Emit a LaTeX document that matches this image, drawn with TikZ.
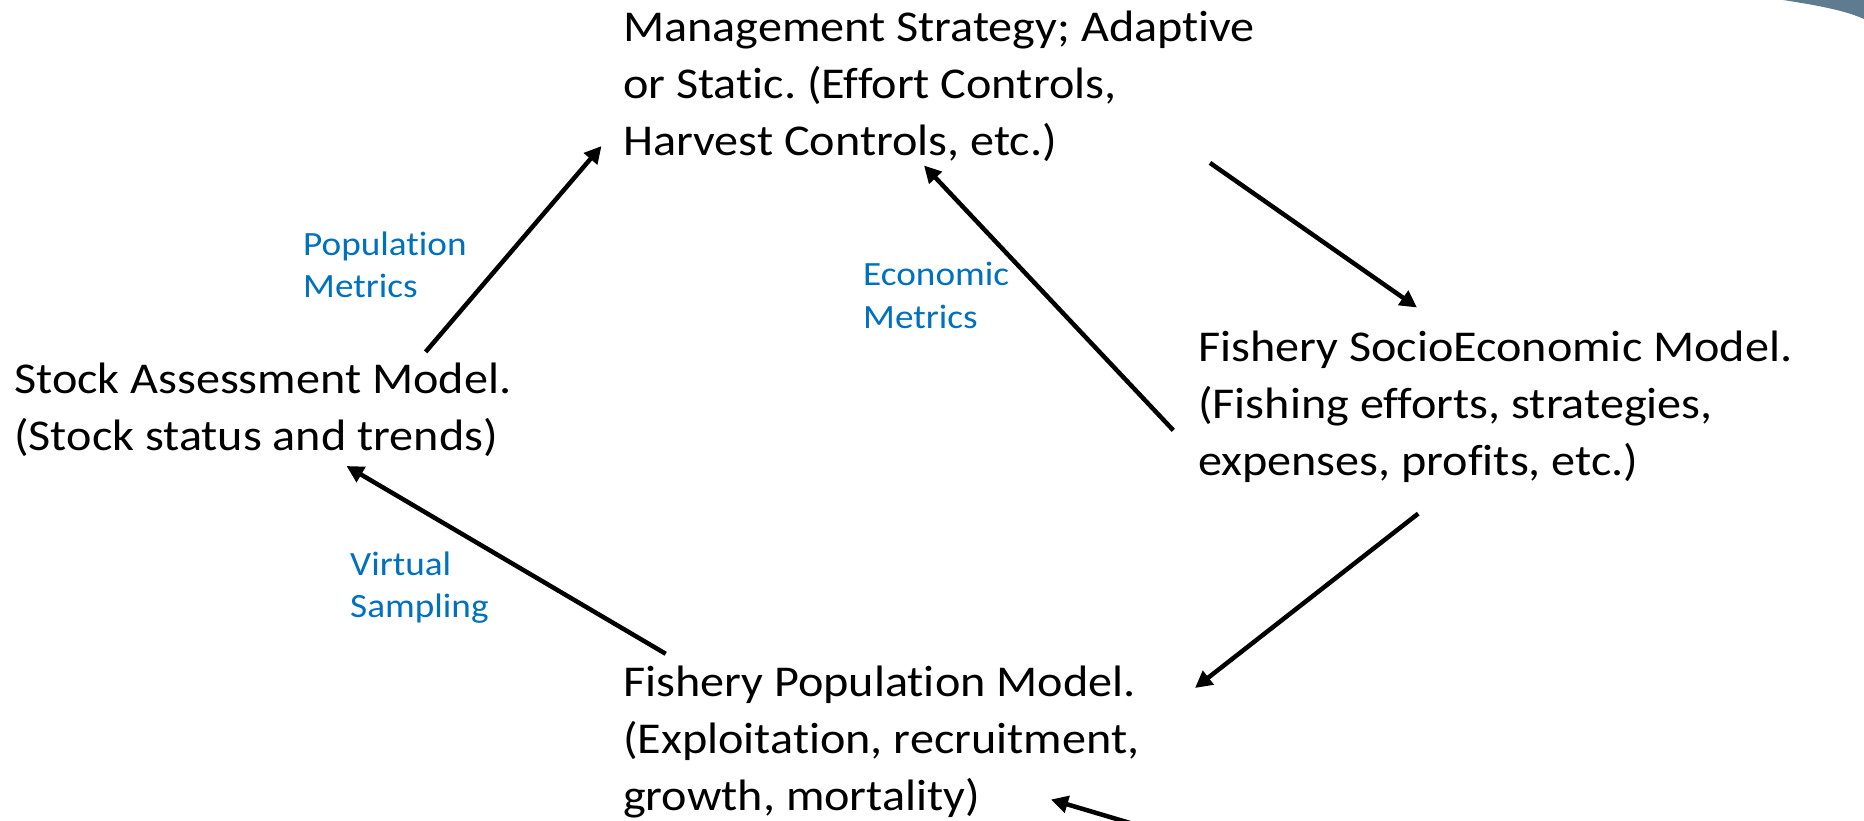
\documentclass[tikz,border=0pt]{standalone}
\usepackage{fontspec}
\setmainfont{Carlito}[Ligatures={NoCommon},FakeStretch=1.095]
\usetikzlibrary{arrows.meta}
\frenchspacing
\definecolor{labelblue}{HTML}{0070C0}
\definecolor{cornerblue}{HTML}{5E7B8F}
% multi-line block whose base is the first line's baseline
\newcommand{\blocktext}[1]{\begin{tabular}[t]{@{}l@{}}#1\end{tabular}}
\begin{document}
\begin{tikzpicture}[x=1pt,y=-1pt,
  mainlabel/.style={anchor=base west,inner sep=0pt,font=\fontsize{44}{57}\selectfont},
  metric/.style={anchor=base west,inner sep=0pt,text=labelblue,font=\fontsize{34}{42.5}\selectfont},
  flow/.style={line width=4.5pt,-{Triangle[length=17pt,width=17pt]}}]
\useasboundingbox (0,0) rectangle (1864,821);
% corner ornament
\fill[cornerblue] (1783,0) .. controls (1822,6) and (1846,11) .. (1864,19) -- (1864,0) -- cycle;

% model blocks
\node[mainlabel] (mgmt) at (623,41.5) {\blocktext{Management Strategy; Adaptive\\or Static. (Effort Controls,\\Harvest Controls, etc.)}};
\node[mainlabel] (stock) at (14,393.3) {\blocktext{Stock Assessment Model.\\(Stock status and trends)}};
\node[mainlabel] (socio) at (1198,361.5) {\blocktext{Fishery SocioEconomic Model.\\(Fishing efforts, strategies,\\expenses, profits, etc.)}};
\node[mainlabel] (popn) at (623,696.5) {\blocktext{Fishery Population Model.\\(Exploitation, recruitment,\\growth, mortality)}};

% flow labels
\node[metric] (popmet) at (303,255) {\blocktext{Population\\Metrics}};
\node[metric] (ecomet) at (863,286) {\blocktext{Economic\\Metrics}};
\node[metric] (virt) at (350,575) {\blocktext{Virtual\\Sampling}};

% connector end points
\coordinate (stock-out) at (425.6,351.9);
\coordinate (mgmt-in) at (601.5,146);
\coordinate (mgmt-out) at (1210,162.9);
\coordinate (socio-in) at (1417,307.5);
\coordinate (socio-back) at (1173.3,430.3);
\coordinate (mgmt-back) at (924,165.5);
\coordinate (socio-out) at (1418.2,513.6);
\coordinate (popn-in) at (1195,688);
\coordinate (popn-out) at (665.7,653.8);
\coordinate (stock-in) at (346.5,466);
\coordinate (feed-start) at (1130,823);
\coordinate (popn-feed) at (1051,799.5);

\draw[flow] (stock-out) -- (mgmt-in);
\draw[flow] (mgmt-out) -- (socio-in);
\draw[flow] (socio-back) -- (mgmt-back);
\draw[flow] (socio-out) -- (popn-in);
\draw[flow] (popn-out) -- (stock-in);
\draw[flow] (feed-start) -- (popn-feed);
\end{tikzpicture}
\end{document}
